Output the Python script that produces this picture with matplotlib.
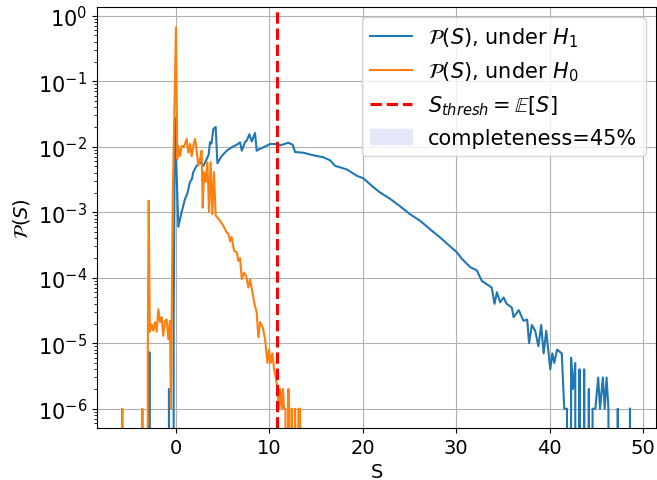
import matplotlib
matplotlib.use("Agg")
import matplotlib.pyplot as plt
from matplotlib.patches import Patch
import numpy as np

# histogram of the test statistic S (0 = empty bin)
s_h1 = [-3.0, -2.85, -2.7, -0.85, -0.75, -0.65, -0.35, -0.25, -0.12, 0.25,
        0.6, 0.96, 1.2, 1.5, 1.7, 1.85, 2.2, 2.57, 2.93, 3.29,
        3.5, 3.64, 3.8, 4.0, 4.25, 4.43, 4.89, 5.43, 5.96, 6.2,
        6.5, 6.86, 7.04, 7.39, 7.6, 7.86, 8.11, 8.46, 8.64, 9.0,
        9.36, 10.07, 10.8, 11.14, 11.6, 12.03, 12.5, 12.75, 13.64, 14.71,
        15.78, 16.5, 17.04, 18.3, 19.36, 20.07, 21.14, 21.86, 22.93, 24.0,
        25.07, 26.14, 27.2, 28.29, 29.36, 30.07, 30.6, 31.5, 32.2, 32.75,
        33.8, 34.1, 34.36, 34.7, 35.07, 35.4, 35.96, 36.14, 36.7, 37.2,
        37.6, 37.8, 38.1, 38.46, 38.8, 39.1, 39.36, 39.64, 40.07, 40.3,
        40.5, 40.8, 41.3, 41.57, 41.86, 42.1, 42.3, 42.5, 42.75, 43.0,
        43.2, 43.4, 43.7, 43.9, 44.2, 44.4, 44.6, 44.9, 45.2, 45.4,
        45.7, 45.9, 46.1, 46.3, 46.5, 47.1, 47.3, 47.5, 48.4, 48.6]
p_h1 = [0, 7.3e-6, 0, 0, 2e-6, 0, 0, 2.2e-5, 2.8e-2, 6e-4,
        1.0e-3, 1.58e-3, 1.9e-3, 2.9e-3, 3.2e-3, 4.1e-3, 5.1e-3, 5.8e-3, 5.1e-3, 6.5e-3,
        7.6e-3, 1.17e-2, 1.12e-2, 1.86e-2, 2.0e-2, 5.6e-3, 7.2e-3, 8.7e-3, 9.8e-3, 1.02e-2,
        1.07e-2, 1.17e-2, 8.7e-3, 1.17e-2, 1.26e-2, 1.55e-2, 1.2e-2, 1.62e-2, 8.7e-3, 9.3e-3,
        9.8e-3, 1.1e-2, 1.1e-2, 1.05e-2, 1.1e-2, 1.15e-2, 1.07e-2, 8.3e-3, 8.1e-3, 7.4e-3,
        6.9e-3, 6.2e-3, 5.1e-3, 4.5e-3, 3.6e-3, 3.3e-3, 2.4e-3, 2.0e-3, 1.6e-3, 1.23e-3,
        9.3e-4, 7.4e-4, 5.5e-4, 4.1e-4, 3.0e-4, 2.45e-4, 1.95e-4, 1.45e-4, 1.3e-4, 8.9e-5,
        7.1e-5, 4.0e-5, 6.0e-5, 4.2e-5, 5.0e-5, 4.0e-5, 3.5e-5, 2.5e-5, 3.2e-5, 2.2e-5,
        2.3e-5, 1.0e-5, 1.9e-5, 1.55e-5, 9e-6, 1.9e-5, 7e-6, 1.55e-5, 4e-6, 7e-6,
        5e-6, 8e-6, 7e-6, 1e-6, 1e-6, 0, 6e-6, 2e-6, 5e-6, 0,
        4e-6, 0, 4e-6, 0, 2e-6, 0, 1e-6, 1e-6, 3e-6, 1e-6,
        3e-6, 1e-6, 3e-6, 1e-6, 0, 0, 1e-6, 0, 0, 1e-6]

s_h0 = [-5.85, -5.75, -5.65, -3.7, -3.6, -3.5, -3.25, -3.02, -2.92, -2.8,
        -2.61, -2.43, -2.25, -2.07, -1.89, -1.71, -1.54, -1.36, -1.18, -1.0,
        -0.82, -0.64, -0.55, -0.46, -0.36, 0.0, 0.14, 0.25, 0.43, 0.61,
        0.79, 0.96, 1.14, 1.32, 1.5, 1.68, 1.86, 2.04, 2.21, 2.39,
        2.57, 2.75, 2.86, 3.0, 3.18, 3.36, 3.54, 3.71, 3.89, 4.07,
        4.25, 4.43, 4.71, 5.07, 5.43, 5.61, 5.79, 5.96, 6.21, 6.5,
        6.68, 6.86, 7.04, 7.29, 7.5, 7.75, 7.93, 8.21, 8.46, 8.64,
        8.82, 9.0, 9.29, 9.54, 9.79, 9.96, 10.14, 10.32, 10.5, 10.68,
        10.86, 11.0, 11.14, 11.32, 11.45, 11.57, 11.72, 11.86, 12.04, 12.21,
        12.39, 12.57, 12.75, 12.93, 13.1, 13.29, 13.4]
p_h0 = [0, 1e-6, 0, 0, 1e-6, 0, 0, 7e-6, 1.5e-3, 1.5e-5,
        1.95e-5, 1.55e-5, 2.1e-5, 1.5e-5, 3.3e-5, 2.1e-5, 2.5e-5, 1.3e-5, 2.2e-5, 2.3e-5,
        1.15e-5, 2.2e-5, 1e-6, 2.3e-5, 1.4e-3, 0.66, 6.5e-3, 1.03e-2, 7.2e-3, 1.03e-2,
        9.8e-3, 1.1e-2, 1.32e-2, 8.1e-3, 1.1e-2, 7.2e-3, 1.03e-2, 1.32e-2, 8.7e-3, 5.1e-3,
        6.5e-3, 8.7e-3, 1.17e-3, 4.1e-3, 2.9e-3, 5.8e-3, 1.0e-3, 5.8e-3, 9.3e-4, 4.1e-3,
        8.9e-4, 8.3e-4, 7.4e-4, 6.2e-4, 4.9e-4, 4.7e-4, 3.6e-4, 4.2e-4, 2.6e-4, 2.45e-4,
        1.8e-4, 2.0e-4, 9.5e-5, 1.2e-4, 1.07e-4, 7.1e-5, 9.5e-5, 5.6e-5, 3.7e-5, 2.95e-5,
        1.23e-5, 2.1e-5, 1.74e-5, 1.15e-5, 5e-6, 8e-6, 5e-6, 7e-6, 4e-6, 3e-6,
        2e-6, 1e-6, 2e-6, 1e-6, 2e-6, 1e-6, 1e-6, 0, 2e-6, 0,
        1e-6, 0, 1e-6, 0, 1e-6, 1e-6, 0]

s_thresh = 10.8
completeness = 45
x_ticks = [0, 10, 20, 30, 40, 50]
y_ticks = [1e-6, 1e-5, 1e-4, 1e-3, 1e-2, 1e-1, 1e0]

fig = plt.figure(figsize=(6.57, 4.81), dpi=100)
ax = fig.add_axes([0.1476, 0.108, 0.851, 0.8754])

ax.plot(s_h1, p_h1, color="tab:blue", lw=1.5, label=r"$\mathcal{P}(S)$, under $H_1$")
ax.plot(s_h0, p_h0, color="tab:orange", lw=1.5, label=r"$\mathcal{P}(S)$, under $H_0$")
ax.axvline(s_thresh, color="red", ls="--", lw=2.2, label=r"$S_{thresh}=\mathbb{E}[S]$")

handles, labels = ax.get_legend_handles_labels()
handles.append(Patch(color="lavender"))
labels.append(f"completeness={completeness}%")

ax.set_yscale("log")
ax.set_xticks(x_ticks)
ax.set_yticks(y_ticks)
ax.set_xlim(-8.46, 51.4)
ax.set_ylim(5.07e-7, 1.36)
ax.grid(True)
ax.set_xlabel("S", fontsize=14)
ax.set_ylabel(r"$\mathcal{P}(S)$", fontsize=14)
ax.tick_params(axis="x", labelsize=14)
ax.tick_params(axis="y", labelsize=15)
ax.legend(handles, labels, loc="upper right", fontsize=15)

fig.savefig("out.png", dpi=100)
